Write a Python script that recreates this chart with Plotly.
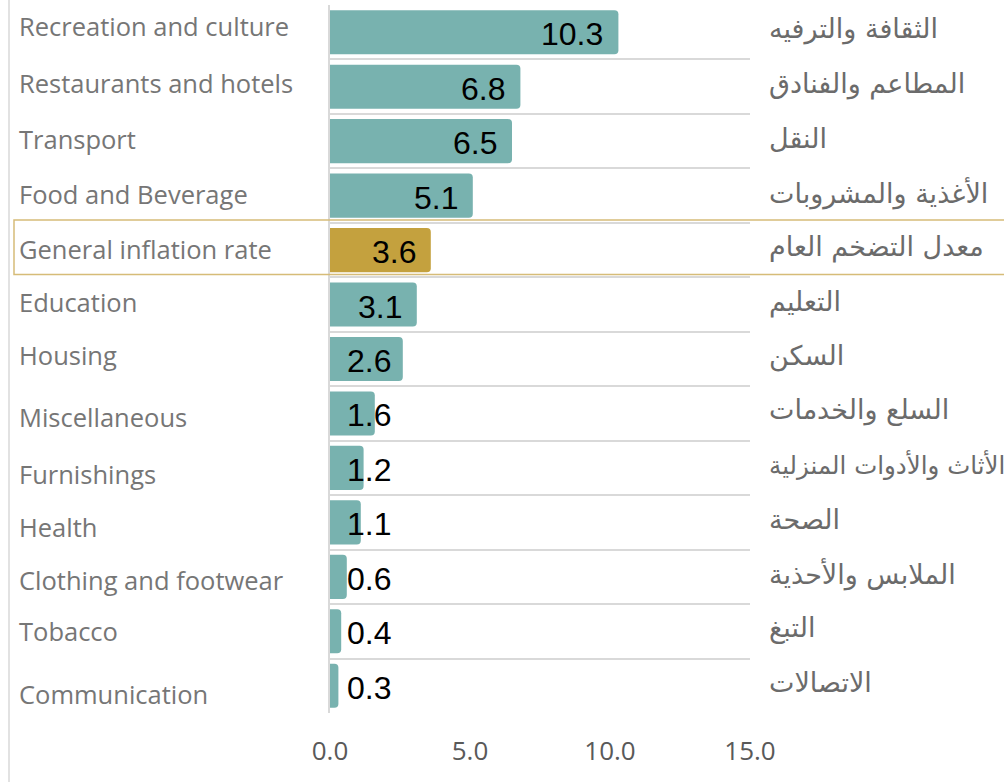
import plotly.graph_objects as go

categories_en = ["Recreation and culture", "Restaurants and hotels", "Transport", "Food and Beverage",
                 "General inflation rate", "Education", "Housing", "Miscellaneous", "Furnishings",
                 "Health", "Clothing and footwear", "Tobacco", "Communication"]
categories_ar = ["الثقافة والترفيه", "المطاعم والفنادق", "النقل", "الأغذية والمشروبات",
                 "معدل التضخم العام", "التعليم", "السكن", "السلع والخدمات", "الأثاث والأدوات المنزلية",
                 "الصحة", "الملابس والأحذية", "التبغ", "الاتصالات"]
values = [10.3, 6.8, 6.5, 5.1, 3.6, 3.1, 2.6, 1.6, 1.2, 1.1, 0.6, 0.4, 0.3]
highlight = "General inflation rate"
x_ticks = [0, 5, 10, 15]
x_tick_labels = ["0.0", "5.0", "10.0", "15.0"]

# --- layout / style ---
W, H = 1004, 782
L, R, T, B = 330, 254, 5, 69
PW = W - L - R
# small vertical nudges (px) of the English text boxes, as laid out in the original
en_label_nudge = [6, 4, 2, 2, 1, 3, 4, -4, -6, -5, -3, 0, -8]

def px_to_paper_x(px):
    return (px - L) / PW

TEAL = "#78b2af"
GOLD = "#c4a13e"
colors = [GOLD if c == highlight else TEAL for c in categories_en]

fig = go.Figure()
fig.add_trace(go.Bar(
    x=values, y=categories_en, orientation="h",
    marker=dict(color=colors, line=dict(width=0)),
    hoverinfo="skip",
))

annotations = []
for c_en, c_ar, v, nud in zip(categories_en, categories_ar, values, en_label_nudge):
    annotations.append(dict(x=px_to_paper_x(17), xref="paper", y=c_en, yref="y",
                            text=c_en, showarrow=False, xanchor="left", yanchor="middle", yshift=nud,
                            font=dict(family="Open Sans", size=25.5, color="#767676")))
    ar_size = 27 if len(c_ar) <= 20 else 24.5
    annotations.append(dict(x=px_to_paper_x(767), xref="paper", y=c_en, yref="y",
                            text=c_ar, showarrow=False, xanchor="left", yanchor="middle", yshift=3,
                            font=dict(family="DejaVu Sans", size=ar_size, color="#6b6b6b")))
    lbl = f"{v:.1f}"
    if v < 2.9:
        annotations.append(dict(x=0, xref="x", y=c_en, yref="y", text=lbl, showarrow=False,
                                xanchor="left", yanchor="middle", xshift=15, yshift=-2,
                                font=dict(family="Liberation Sans", size=32, color="#000000")))
    else:
        annotations.append(dict(x=v, xref="x", y=c_en, yref="y", text=lbl, showarrow=False,
                                xanchor="right", yanchor="middle", xshift=-13, yshift=-2,
                                font=dict(family="Liberation Sans", size=32, color="#000000")))

hi = categories_en.index(highlight)
shapes = [
    dict(type="line", xref="paper", yref="paper", x0=px_to_paper_x(9), x1=px_to_paper_x(9),
         y0=-B / (H - T - B), y1=1 + T / (H - T - B), line=dict(color="#d9d9d9", width=1.5)),
    dict(type="rect", xref="paper", yref="y", x0=px_to_paper_x(14), x1=px_to_paper_x(1010),
         y0=hi - 0.55, y1=hi + 0.45, line=dict(color="#d6bc78", width=1.5), fillcolor="rgba(0,0,0,0)"),
]

fig.update_layout(
    width=W, height=H,
    margin=dict(l=L, r=R, t=T, b=B),
    paper_bgcolor="white", plot_bgcolor="white",
    bargap=0.19, barcornerradius=4,
    showlegend=False,
    annotations=annotations,
    shapes=shapes,
    xaxis=dict(range=[0, 15], tickvals=x_ticks, ticktext=x_tick_labels, showgrid=False,
               zeroline=False, showline=False, ticks="", ticklabelstandoff=20,
               tickfont=dict(family="Open Sans", size=26, color="#595959"), fixedrange=True),
    yaxis=dict(categoryorder="array", categoryarray=categories_en, autorange="reversed",
               showticklabels=False, showgrid=True, gridcolor="#d9d9d9", gridwidth=1.5,
               tickson="boundaries", ticks="", showline=True, linecolor="#d9d9d9", linewidth=1.5,
               zeroline=False, fixedrange=True),
)

fig.write_html("out.html", config={"displayModeBar": False},
               post_script="document.body.style.margin='0';document.body.style.overflow='hidden';")
